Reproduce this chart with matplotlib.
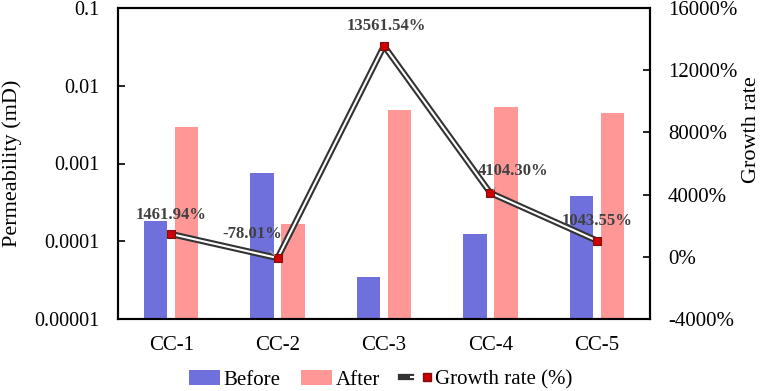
import matplotlib
matplotlib.use("Agg")
import matplotlib.pyplot as plt
import numpy as np
from matplotlib.lines import Line2D
from matplotlib.legend_handler import HandlerTuple
from matplotlib.ticker import FixedLocator, NullLocator, FuncFormatter

# data
samples = ["CC-1", "CC-2", "CC-3", "CC-4", "CC-5"]
before = [1.8e-4, 7.6e-4, 3.5e-5, 1.25e-4, 3.8e-4]
after = [2.95e-3, 1.65e-4, 4.9e-3, 5.3e-3, 4.5e-3]
growth = [1461.94, -78.01, 13561.54, 4104.30, 1043.55]
growth_labels = ["1461.94%", "-78.01%", "13561.54%", "4104.30%", "1043.55%"]
# label offsets in points (dx, dy) and whether a leader line is drawn
label_offsets = [(0, 14), (-18, 17), (2, 14), (16, 16), (0, 14)]
leaders = [False, True, False, True, False]

plt.rcParams['font.family'] = ['Liberation Serif', 'DejaVu Serif']
plt.rcParams['font.size'] = 14.5

blue = "#7070dc"
pink = "#ff9797"

fig = plt.figure(figsize=(7.61, 3.91), dpi=100)
ax = fig.add_axes([118/761, 1 - 319/391, (650-118)/761, (319-8)/391])

x = np.arange(len(samples))
w = 0.22
ax.bar(x - 0.145, before, w, color=blue, label="Before")
ax.bar(x + 0.145, after, w, color=pink, label="After")
ax.set_yscale("log")
ax.set_ylim(1e-5, 0.1)
ax.set_xlim(-0.5, len(samples) - 0.5)
ax.yaxis.set_major_locator(FixedLocator([1e-5, 1e-4, 1e-3, 1e-2, 1e-1]))
ax.yaxis.set_minor_locator(NullLocator())
ax.yaxis.set_major_formatter(FuncFormatter(lambda v, p: ("%.5f" % v).rstrip("0")))
ax.set_xticks(x)
ax.set_xticklabels(samples, fontsize=15)
ax.tick_params(axis="x", length=0, pad=12)
ax.tick_params(axis="y", direction="in", length=5, width=1.2, pad=13)
for s in ax.spines.values():
    s.set_linewidth(1.5)

ax2 = ax.twinx()
ax2.set_ylim(-4000, 16000)
ax2.set_yticks([-4000, 0, 4000, 8000, 12000, 16000])
ax2.yaxis.set_major_formatter(FuncFormatter(lambda v, p: "%d%%" % v))
ax2.tick_params(axis="y", direction="in", length=5, width=1.2, pad=13,
                labelsize=15)
for s in ax2.spines.values():
    s.set_linewidth(1.5)

# axis titles placed as in the reference
fig.text(12/761, 1 - 163/391, "Permeability (mD)", rotation=90,
         ha="center", va="center", fontsize=16)
fig.text(751/761, 1 - 130/391, "Growth rate", rotation=90,
         ha="center", va="center", fontsize=16)

ax2.plot(x, growth, color="#333333", lw=4.5, solid_capstyle="butt", zorder=3)
ax2.plot(x, growth, color="white", lw=1.5, solid_capstyle="butt", zorder=4)
ax2.plot(x, growth, ls="none", marker="s", ms=6, mfc="#cc0000", mec="#7a1010",
         mew=0.8, zorder=5)

for xi, gi, lab, off, lead in zip(x, growth, growth_labels, label_offsets, leaders):
    ax2.annotate(lab, (xi, gi), xytext=off, textcoords="offset points",
                 ha="center", va="center", fontsize=12, fontweight="bold",
                 color="#404040", zorder=6,
                 arrowprops=dict(arrowstyle="-", color="#a0a0a0", lw=1,
                                 shrinkA=6, shrinkB=3) if lead else None)

h_growth = (Line2D([], [], color="#333333", lw=4.5),
            Line2D([], [], color="white", lw=1.5),
            Line2D([], [], ls="none", marker="s", ms=6, mfc="#cc0000", mec="#7a1010"))
bh, bl = ax.get_legend_handles_labels()
fig.legend(bh + [h_growth], bl + ["Growth rate (%)"],
           handler_map={tuple: HandlerTuple(ndivide=None, pad=0)},
           loc="center", bbox_to_anchor=(0.5, 1 - 380/391), ncol=3, frameon=False,
           handlelength=1.5, handletextpad=0.15, columnspacing=1.0, fontsize=15)

fig.savefig("out.png", dpi=100)
